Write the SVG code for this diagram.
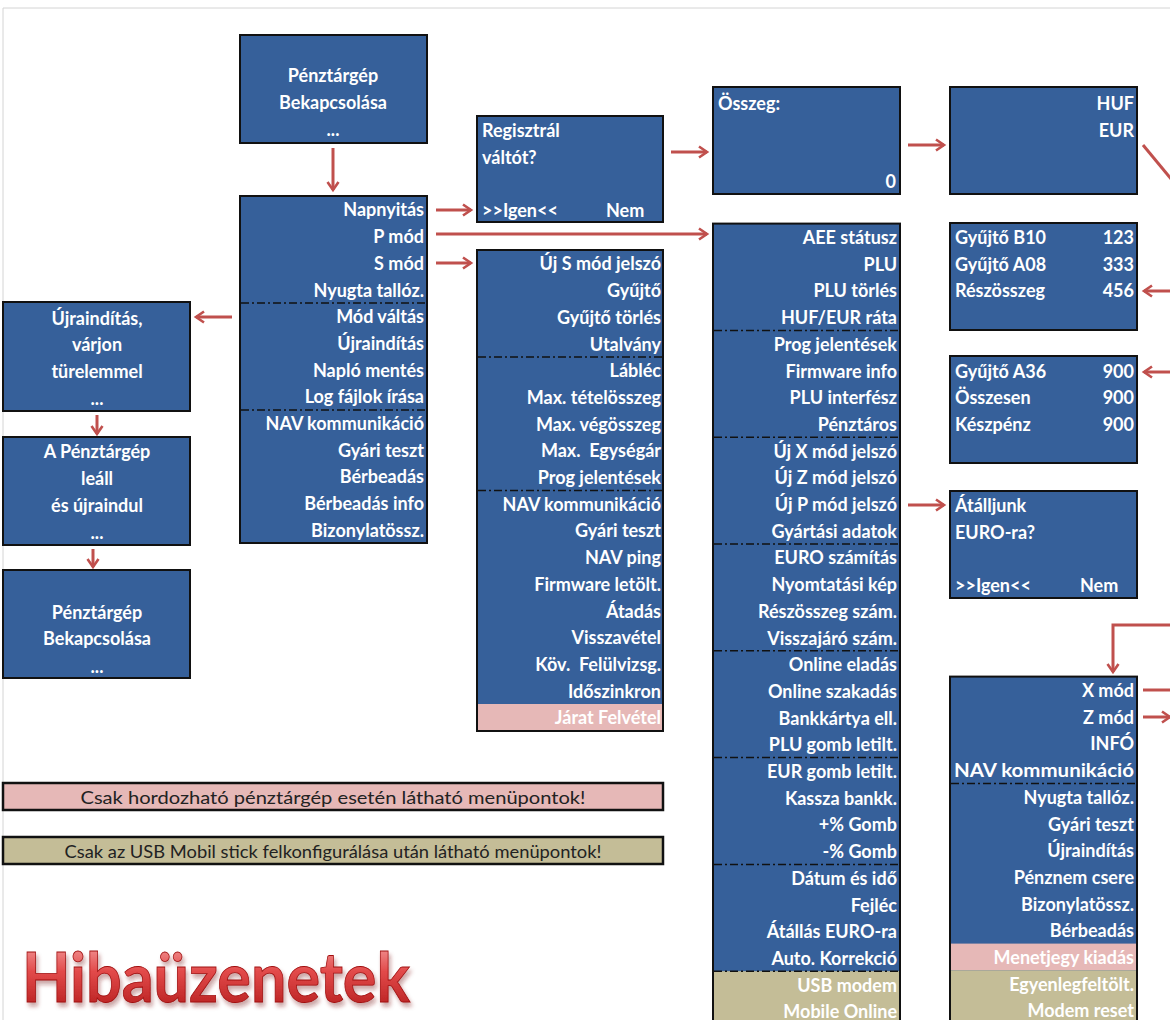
<svg xmlns="http://www.w3.org/2000/svg" width="1170" height="1020" viewBox="0 0 1170 1020">
<defs>
<style>
.box{fill:#36609A;stroke:#111;stroke-width:2}
.t{font-family:Lato,"Open Sans","Liberation Sans",sans-serif;font-weight:bold;font-size:18px;fill:#fff;dominant-baseline:central}
.r{text-anchor:end}
.c{text-anchor:middle}
.sep{stroke:#111;stroke-width:1.5;stroke-dasharray:8 3 2 3}
.pink{fill:#E6B8B7}
.tan{fill:#C4BD97}
.arr{stroke:#C0504D;stroke-width:3;fill:none;marker-end:url(#ah)}
.ln{stroke:#C0504D;stroke-width:3;fill:none}
.leg{font-family:Lato,"Open Sans","Liberation Sans",sans-serif;font-size:17.5px;fill:#222;text-anchor:middle;dominant-baseline:central}
</style>
<marker id="ah" markerUnits="userSpaceOnUse" markerWidth="14" markerHeight="14" viewBox="0 0 14 14" refX="11" refY="7" orient="auto">
<path d="M3,1.5 L11,7 L3,12.5" stroke="#C0504D" stroke-width="2.6" fill="none"/>
</marker>
<linearGradient id="hg" x1="0" y1="0" x2="0" y2="1">
<stop offset="0" stop-color="#F7B0B0"/>
<stop offset="0.45" stop-color="#E24A4A"/>
<stop offset="1" stop-color="#B01818"/>
</linearGradient>
<filter id="sh" x="-5%" y="-20%" width="115%" height="150%">
<feDropShadow dx="2" dy="4" stdDeviation="2" flood-color="#7a1a1a" flood-opacity="0.4"/>
</filter>
</defs>
<rect x="0" y="0" width="1170" height="1020" fill="#fff"/>
<line x1="3" y1="8" x2="1170" y2="8" stroke="#d4d4d4" stroke-width="1"/>
<line x1="3" y1="8" x2="3" y2="1020" stroke="#d4d4d4" stroke-width="1"/>

<g id="connectors">
<path class="arr" d="M333,148 V190"/>
<path class="arr" d="M436,210 H471"/>
<path class="arr" d="M436,234 H707"/>
<path class="arr" d="M436,263 H471"/>
<path class="arr" d="M232,317 H196"/>
<path class="arr" d="M97,415 V434"/>
<path class="arr" d="M93,549 V567"/>
<path class="arr" d="M671,152 H707"/>
<path class="arr" d="M908,145 H944"/>
<path class="arr" d="M908,505 H944"/>
<path class="ln" d="M1143,145 L1172,180"/>
<path class="arr" d="M1172,291 H1144"/>
<path class="arr" d="M1172,372 H1144"/>
<path class="arr" d="M1172,625 H1113 V672"/>
<path class="ln" d="M1143,690 H1172"/>
<path class="arr" d="M1143,717 H1170"/>
</g>

<g id="start1">
<rect class="box" x="240" y="35" width="187" height="108"/>
<text class="t c" x="333" y="75">Pénztárgép</text>
<text class="t c" x="333" y="102">Bekapcsolása</text>
<text class="t c" x="333" y="129">...</text>
</g>

<g id="mainmenu">
<rect class="box" x="240" y="196" width="187" height="347"/>
<line class="sep" x1="241" y1="303" x2="426" y2="303"/>
<line class="sep" x1="241" y1="410" x2="426" y2="410"/>
<text class="t r" x="424" y="209.4">Napnyitás</text>
<text class="t r" x="424" y="236.1">P mód</text>
<text class="t r" x="424" y="262.8">S mód</text>
<text class="t r" x="424" y="289.5">Nyugta tallóz.</text>
<text class="t r" x="424" y="316.2">Mód váltás</text>
<text class="t r" x="424" y="342.9">Újraindítás</text>
<text class="t r" x="424" y="369.6">Napló mentés</text>
<text class="t r" x="424" y="396.3">Log fájlok írása</text>
<text class="t r" x="424" y="423">NAV kommunikáció</text>
<text class="t r" x="424" y="449.7">Gyári teszt</text>
<text class="t r" x="424" y="476.4">Bérbeadás</text>
<text class="t r" x="424" y="503.1">Bérbeadás info</text>
<text class="t r" x="424" y="529.8">Bizonylatössz.</text>
</g>

<g id="restart">
<rect class="box" x="3" y="302" width="187" height="109"/>
<text class="t c" x="97" y="318">Újraindítás,</text>
<text class="t c" x="97" y="344">várjon</text>
<text class="t c" x="97" y="371">türelemmel</text>
<text class="t c" x="97" y="398">...</text>
</g>

<g id="shutdown">
<rect class="box" x="3" y="437" width="187" height="108"/>
<text class="t c" x="97" y="451">A Pénztárgép</text>
<text class="t c" x="97" y="478">leáll</text>
<text class="t c" x="97" y="505">és újraindul</text>
<text class="t c" x="97" y="532">...</text>
</g>

<g id="start2">
<rect class="box" x="3" y="570" width="187" height="108"/>
<text class="t c" x="97" y="612">Pénztárgép</text>
<text class="t c" x="97" y="638">Bekapcsolása</text>
<text class="t c" x="97" y="666">...</text>
</g>

<g id="regisztral">
<rect class="box" x="477" y="116" width="186" height="106"/>
<text class="t" x="482" y="130">Regisztrál</text>
<text class="t" x="482" y="157">váltót?</text>
<text class="t" x="482" y="210">&gt;&gt;Igen&lt;&lt;</text>
<text class="t" x="606" y="210">Nem</text>
</g>

<g id="smenu">
<rect class="box" x="477" y="250" width="186" height="481"/>
<rect class="pink" x="478" y="704" width="184" height="26"/>
<line class="sep" x1="478" y1="357" x2="662" y2="357"/>
<line class="sep" x1="478" y1="490.5" x2="662" y2="490.5"/>
<text class="t r" x="661" y="263.4">Új S mód jelszó</text>
<text class="t r" x="661" y="290.1">Gyűjtő</text>
<text class="t r" x="661" y="316.8">Gyűjtő törlés</text>
<text class="t r" x="661" y="343.5">Utalvány</text>
<text class="t r" x="661" y="370.2">Lábléc</text>
<text class="t r" x="661" y="396.9">Max. tételösszeg</text>
<text class="t r" x="661" y="423.6">Max. végösszeg</text>
<text class="t r" x="661" y="450.3" xml:space="preserve">Max.  Egységár</text>
<text class="t r" x="661" y="477">Prog jelentések</text>
<text class="t r" x="661" y="503.7">NAV kommunikáció</text>
<text class="t r" x="661" y="530.4">Gyári teszt</text>
<text class="t r" x="661" y="557.1">NAV ping</text>
<text class="t r" x="661" y="583.8">Firmware letölt.</text>
<text class="t r" x="661" y="610.5">Átadás</text>
<text class="t r" x="661" y="637.2">Visszavétel</text>
<text class="t r" x="661" y="663.9" xml:space="preserve">Köv.  Felülvizsg.</text>
<text class="t r" x="661" y="690.6">Időszinkron</text>
<text class="t r" x="661" y="717.3">Járat Felvétel</text>
</g>

<g id="osszeg">
<rect class="box" x="713" y="87" width="187" height="107"/>
<text class="t" x="718" y="103">Összeg:</text>
<text class="t r" x="896" y="181">0</text>
</g>

<g id="pmenu">
<rect class="box" x="713" y="223.6" width="187" height="810"/>
<rect class="tan" x="714" y="971.2" width="185" height="60"/>
<line class="sep" x1="714" y1="330.4" x2="899" y2="330.4"/>
<line class="sep" x1="714" y1="437.2" x2="899" y2="437.2"/>
<line class="sep" x1="714" y1="544" x2="899" y2="544"/>
<line class="sep" x1="714" y1="650.8" x2="899" y2="650.8"/>
<line class="sep" x1="714" y1="757.6" x2="899" y2="757.6"/>
<line class="sep" x1="714" y1="864.4" x2="899" y2="864.4"/>
<line class="sep" x1="714" y1="971.2" x2="899" y2="971.2"/>
<text class="t r" x="897" y="237">AEE státusz</text>
<text class="t r" x="897" y="263.7">PLU</text>
<text class="t r" x="897" y="290.4">PLU törlés</text>
<text class="t r" x="897" y="317.1">HUF/EUR ráta</text>
<text class="t r" x="897" y="343.8">Prog jelentések</text>
<text class="t r" x="897" y="370.5">Firmware info</text>
<text class="t r" x="897" y="397.2">PLU interfész</text>
<text class="t r" x="897" y="423.9">Pénztáros</text>
<text class="t r" x="897" y="450.6">Új X mód jelszó</text>
<text class="t r" x="897" y="477.3">Új Z mód jelszó</text>
<text class="t r" x="897" y="504">Új P mód jelszó</text>
<text class="t r" x="897" y="530.7">Gyártási adatok</text>
<text class="t r" x="897" y="557.4">EURO számítás</text>
<text class="t r" x="897" y="584.1">Nyomtatási kép</text>
<text class="t r" x="897" y="610.8">Részösszeg szám.</text>
<text class="t r" x="897" y="637.5">Visszajáró szám.</text>
<text class="t r" x="897" y="664.2">Online eladás</text>
<text class="t r" x="897" y="690.9">Online szakadás</text>
<text class="t r" x="897" y="717.6">Bankkártya ell.</text>
<text class="t r" x="897" y="744.3">PLU gomb letilt.</text>
<text class="t r" x="897" y="771">EUR gomb letilt.</text>
<text class="t r" x="897" y="797.7">Kassza bankk.</text>
<text class="t r" x="897" y="824.4">+% Gomb</text>
<text class="t r" x="897" y="851.1">-% Gomb</text>
<text class="t r" x="897" y="877.8">Dátum és idő</text>
<text class="t r" x="897" y="904.5">Fejléc</text>
<text class="t r" x="897" y="931.2">Átállás EURO-ra</text>
<text class="t r" x="897" y="957.9">Auto. Korrekció</text>
<text class="t r" x="897" y="984.6">USB modem</text>
<text class="t r" x="897" y="1011.3">Mobile Online</text>
</g>

<g id="currency">
<rect class="box" x="950" y="87" width="187" height="107"/>
<text class="t r" x="1134" y="103">HUF</text>
<text class="t r" x="1134" y="130">EUR</text>
</g>

<g id="subtotal">
<rect class="box" x="950" y="223" width="187" height="107"/>
<text class="t" x="955" y="237">Gyűjtő B10</text>
<text class="t r" x="1134" y="237">123</text>
<text class="t" x="955" y="264">Gyűjtő A08</text>
<text class="t r" x="1134" y="264">333</text>
<text class="t" x="955" y="290">Részösszeg</text>
<text class="t r" x="1134" y="290">456</text>
</g>

<g id="total">
<rect class="box" x="950" y="356" width="187" height="107"/>
<text class="t" x="955" y="371">Gyűjtő A36</text>
<text class="t r" x="1134" y="371">900</text>
<text class="t" x="955" y="397">Összesen</text>
<text class="t r" x="1134" y="397">900</text>
<text class="t" x="955" y="424">Készpénz</text>
<text class="t r" x="1134" y="424">900</text>
</g>

<g id="euro">
<rect class="box" x="950" y="491" width="187" height="107"/>
<text class="t" x="955" y="505">Átálljunk</text>
<text class="t" x="955" y="532">EURO-ra?</text>
<text class="t" x="955" y="585">&gt;&gt;Igen&lt;&lt;</text>
<text class="t" x="1080" y="585">Nem</text>
</g>

<g id="xmenu">
<rect class="box" x="950" y="676.6" width="187" height="360"/>
<rect class="pink" x="951" y="943.6" width="185" height="26.7"/>
<rect class="tan" x="951" y="970.3" width="185" height="60"/>
<line class="sep" x1="951" y1="783.4" x2="1136" y2="783.4"/>
<text class="t r" x="1134" y="690">X mód</text>
<text class="t r" x="1134" y="716.7">Z mód</text>
<text class="t r" x="1134" y="743.4">INFÓ</text>
<text class="t r" x="1134" y="770.1" textLength="180" lengthAdjust="spacingAndGlyphs">NAV kommunikáció</text>
<text class="t r" x="1134" y="796.8">Nyugta tallóz.</text>
<text class="t r" x="1134" y="823.5">Gyári teszt</text>
<text class="t r" x="1134" y="850.2">Újraindítás</text>
<text class="t r" x="1134" y="876.9">Pénznem csere</text>
<text class="t r" x="1134" y="903.6">Bizonylatössz.</text>
<text class="t r" x="1134" y="930.3">Bérbeadás</text>
<text class="t r" x="1134" y="957">Menetjegy kiadás</text>
<text class="t r" x="1134" y="983.7">Egyenlegfeltölt.</text>
<text class="t r" x="1134" y="1010.4">Modem reset</text>
</g>

<g id="legend-pink">
<rect x="3" y="783" width="660" height="27" fill="#E6B8B7" stroke="#111" stroke-width="2.5"/>
<text class="leg" x="333" y="797" textLength="505" lengthAdjust="spacingAndGlyphs">Csak hordozható pénztárgép esetén látható menüpontok!</text>
</g>
<g id="legend-tan">
<rect x="3" y="837" width="660" height="27" fill="#C4BD97" stroke="#111" stroke-width="2.5"/>
<text class="leg" x="333" y="851" textLength="537" lengthAdjust="spacingAndGlyphs">Csak az USB Mobil stick felkonfigurálása után látható menüpontok!</text>
</g>

<g id="title">
<text x="22" y="1002" font-family="Lato,'Open Sans','Liberation Sans',sans-serif" font-weight="bold" font-size="68" fill="url(#hg)" stroke="#a01010" stroke-width="0.8" textLength="388" lengthAdjust="spacingAndGlyphs" filter="url(#sh)">Hibaüzenetek</text>
</g>
</svg>
